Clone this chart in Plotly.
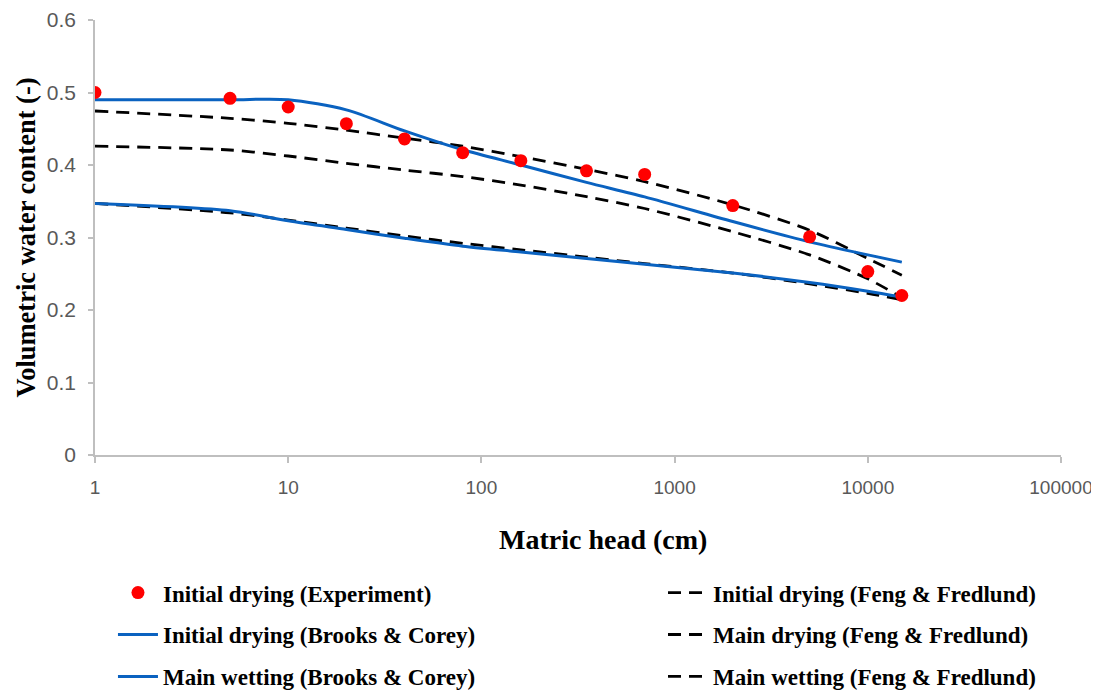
import plotly.graph_objects as go

# Matric head (cm)
head = [1, 5, 10, 20, 40, 80, 160, 350, 700, 2000, 5000, 10000, 15000]

exp_initial_drying = [0.500, 0.492, 0.480, 0.457, 0.436, 0.417, 0.406, 0.392, 0.387, 0.344, 0.301, 0.253, 0.220]
bc_initial_drying = [0.490, 0.490, 0.490, 0.476, 0.447, 0.421, 0.400, 0.376, 0.356, 0.322, 0.294, 0.276, 0.266]
bc_main_wetting = [0.347, 0.337, 0.323, 0.311, 0.299, 0.288, 0.280, 0.271, 0.263, 0.251, 0.238, 0.226, 0.218]
ff_initial_drying = [0.4745, 0.4644, 0.4575, 0.448, 0.437, 0.426, 0.4115, 0.394, 0.377, 0.345, 0.310, 0.271, 0.248]
ff_main_drying = [0.426, 0.4207, 0.4124, 0.4023, 0.393, 0.384, 0.3724, 0.3563, 0.340, 0.308, 0.276, 0.243, 0.217]
ff_main_wetting = [0.347, 0.334, 0.324, 0.313, 0.302, 0.292, 0.283, 0.273, 0.264, 0.251, 0.236, 0.223, 0.214]

x_tickvals = [1, 10, 100, 1000, 10000, 100000]
x_ticktext = ["1", "10", "100", "1000", "10000", "100000"]
y_tickvals = [0, 0.1, 0.2, 0.3, 0.4, 0.5, 0.6]
y_ticktext = ["0", "0.1", "0.2", "0.3", "0.4", "0.5", "0.6"]

x_title = "Matric head (cm)"
y_title = "Volumetric water content (-)"

BLUE = "#0a62c0"
DASH = "13px,8px"
SMOOTH = 0.8
serif = "Liberation Serif, Times New Roman, serif"
sans = "Liberation Sans, Arial, sans-serif"

fig = go.Figure()

# right legend column (dashed Feng & Fredlund)
fig.add_trace(go.Scatter(x=head, y=ff_initial_drying, mode="lines",
                         name="Initial drying (Feng & Fredlund)",
                         line=dict(color="black", width=2.8, dash=DASH, shape="spline", smoothing=SMOOTH),
                         legend="legend2", legendgroup="d", legendrank=1))
fig.add_trace(go.Scatter(x=head, y=ff_main_drying, mode="lines",
                         name="Main drying (Feng & Fredlund)",
                         line=dict(color="black", width=2.8, dash=DASH, shape="spline", smoothing=SMOOTH),
                         legend="legend2", legendgroup="e", legendrank=2))
fig.add_trace(go.Scatter(x=head, y=ff_main_wetting, mode="lines",
                         name="Main wetting (Feng & Fredlund)",
                         line=dict(color="black", width=2.8, dash=DASH, shape="spline", smoothing=SMOOTH),
                         legend="legend2", legendgroup="f", legendrank=3))
# left legend column
fig.add_trace(go.Scatter(x=head, y=bc_initial_drying, mode="lines",
                         name="Initial drying (Brooks & Corey)",
                         line=dict(color=BLUE, width=3, shape="spline", smoothing=SMOOTH),
                         legend="legend", legendgroup="b", legendrank=2))
fig.add_trace(go.Scatter(x=head, y=bc_main_wetting, mode="lines",
                         name="Main wetting (Brooks & Corey)",
                         line=dict(color=BLUE, width=3, shape="spline", smoothing=SMOOTH),
                         legend="legend", legendgroup="c", legendrank=3))
fig.add_trace(go.Scatter(x=head, y=exp_initial_drying, mode="markers",
                         name="Initial drying (Experiment)",
                         marker=dict(color="#ff0000", size=13),
                         legend="legend", legendgroup="a", legendrank=1))

legend_font = dict(family=serif, size=23, color="black", weight="bold")

fig.update_layout(
    width=1091, height=685,
    margin=dict(l=87, r=38, t=12, b=238, autoexpand=False),
    plot_bgcolor="white", paper_bgcolor="white",
    showlegend=True,
    legend=dict(x=0.0186, y=-0.267, xanchor="left", yanchor="top",
                orientation="v", font=legend_font, tracegroupgap=9,
                traceorder="grouped", bgcolor="rgba(0,0,0,0)", itemwidth=40),
    legend2=dict(x=0.588, y=-0.267, xanchor="left", yanchor="top",
                 orientation="v", font=legend_font, tracegroupgap=9,
                 traceorder="grouped", bgcolor="rgba(0,0,0,0)", itemwidth=40),
    xaxis=dict(type="log", range=[0, 5], tickvals=x_tickvals, ticktext=x_ticktext,
               automargin=False,
               showgrid=False, zeroline=False, showline=True, linecolor="#bfbfbf", linewidth=1.5,
               ticks="outside", ticklen=6, tickcolor="#bfbfbf", tickwidth=1.5,
               tickfont=dict(family=sans, size=19, color="#595959"),
               ticklabelstandoff=8),
    yaxis=dict(range=[0, 0.6], tickvals=y_tickvals, ticktext=y_ticktext,
               automargin=False,
               showgrid=False, zeroline=False, showline=True, linecolor="#bfbfbf", linewidth=1.5,
               ticks="outside", ticklen=5, tickcolor="#bfbfbf", tickwidth=1.5,
               tickfont=dict(family=sans, size=21, color="#595959"),
               ticklabelstandoff=8,
               title=dict(text=y_title, standoff=4,
                          font=dict(family=serif, size=26.5, color="black", weight="bold"))),
    annotations=[dict(text=x_title, xref="paper", yref="paper", x=0.526, y=-0.195,
                      xanchor="center", yanchor="middle", showarrow=False,
                      font=dict(family=serif, size=28, color="black", weight="bold"))],
)

fig.write_html("out.html")
